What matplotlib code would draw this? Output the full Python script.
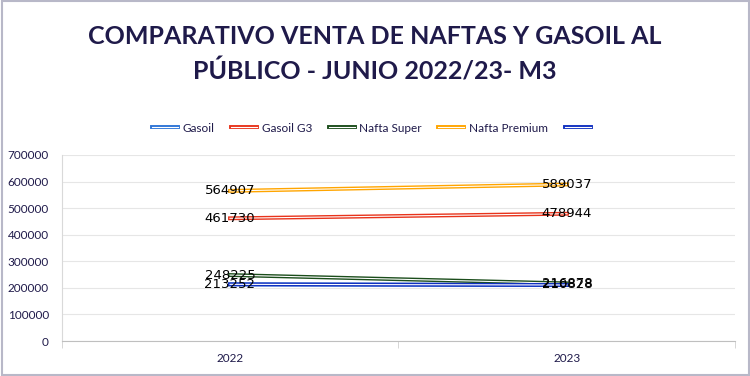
import matplotlib.pyplot as plt
import matplotlib.patheffects as pe
from matplotlib.patches import Rectangle

# data
years = ['2022', '2023']
gasoil = [213252, 210828]
gasoil_g3 = [461730, 478944]
nafta_super = [248225, 216878]
nafta_premium = [564907, 589037]
extra = [213252, 210828]  # unnamed fifth series in the legend

series_names = ['Gasoil', 'Gasoil G3', 'Nafta Super', 'Nafta Premium', '']
series_values = [gasoil, gasoil_g3, nafta_super, nafta_premium, extra]
colors = ['#2E75D6', '#E8341C', '#1B4D1B', '#FFA500', '#1030C0']
show_labels = [True, True, True, True, False]

navy = '#1F1A4A'
plt.rcParams['font.family'] = ['Lato', 'DejaVu Sans']

fig = plt.figure(figsize=(7.5, 3.76), dpi=100)
ax = fig.add_axes([61.5 / 750, 1 - 341 / 376, 674 / 750, 186 / 376])

x = list(range(len(years)))
for name, vals, c, lab in zip(series_names, series_values, colors, show_labels):
    # double-line look of the original (coloured stroke with a white core)
    effects = [pe.Stroke(linewidth=2.8, foreground=c),
               pe.Stroke(linewidth=0.8, foreground='white')]
    ax.plot(x, vals, color=c, lw=2.8, label=name if name else ' ', path_effects=effects)
    if lab:
        for xi, v in zip(x, vals):
            ax.text(xi, v, str(v), ha='center', va='center', fontsize=9.5,
                    color='black', family=['DejaVu Sans'])

ax.set_xlim(-0.5, 1.5)
ax.set_ylim(0, 700000)
ax.set_yticks(range(0, 700001, 100000))
ax.set_yticklabels([str(v) for v in range(0, 700001, 100000)])
ax.set_xticks(x)
ax.set_xticklabels(years)
ax.tick_params(axis='both', length=0, labelsize=8.5, colors=navy, pad=9)
ax.set_xticks([-0.5, 0.5, 1.5], minor=True)
ax.tick_params(axis='x', which='minor', length=5, color='#D0D0D0')
ax.grid(axis='y', color='#E6E6E6', lw=0.8)
ax.set_axisbelow(True)
for s in ['top', 'right']:
    ax.spines[s].set_visible(False)
ax.spines['left'].set_color('#D9D9D9')
ax.spines['bottom'].set_color('#BFBFBF')

fig.text(0.5, 1 - 37 / 376, 'COMPARATIVO VENTA DE NAFTAS Y GASOIL AL',
         ha='center', va='center', fontsize=18, fontweight='bold', color=navy)
fig.text(0.5, 1 - 72 / 376, 'PÚBLICO - JUNIO 2022/23- M3',
         ha='center', va='center', fontsize=18, fontweight='bold', color=navy)

fig.legend(loc='center', bbox_to_anchor=(0.5, 1 - 128 / 376), ncol=5, frameon=False,
           fontsize=8.5, labelcolor=navy, handlelength=2.2, columnspacing=1.4,
           handletextpad=0.4)

# outer chart border
fig.patches.append(Rectangle((0.002, 0.003), 0.996, 0.994, transform=fig.transFigure,
                             fill=False, edgecolor='#B8B8C8', lw=1.5))

fig.savefig('out.png', dpi=100)
